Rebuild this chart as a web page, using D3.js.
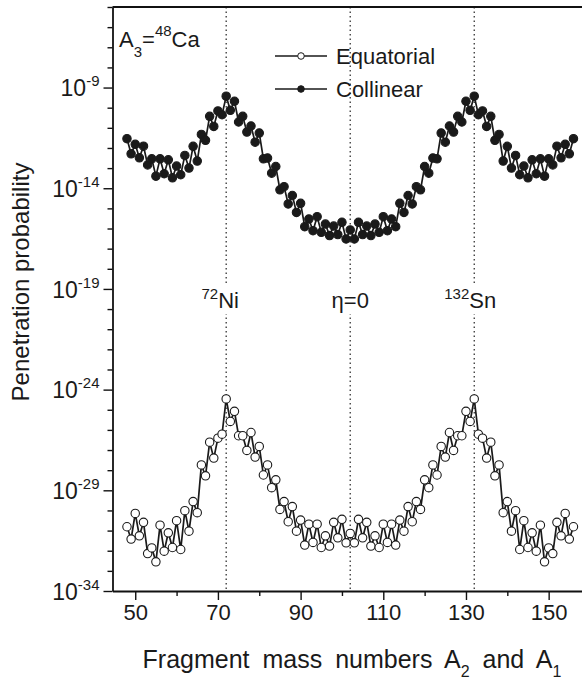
<!DOCTYPE html>
<html>
<head>
<meta charset="utf-8">
<script src="https://cdn.jsdelivr.net/npm/d3@7"></script>
<style>
  body { margin: 0; background: #fff; }
  svg { font-family: "Liberation Sans", Arial, sans-serif; }
  .domain { stroke: #111; stroke-width: 1.8; }
  .tick line { stroke: #111; stroke-width: 1.4; }
</style>
</head>
<body>
<svg id="chart" width="582" height="679"></svg>
<script>
// fragment mass numbers (A2 and A1)
const massNumbers = [48, 49, 50, 51, 52, 53, 54, 55, 56, 57, 58, 59, 60, 61, 62, 63, 64, 65, 66, 67,
  68, 69, 70, 71, 72, 73, 74, 75, 76, 77, 78, 79, 80, 81, 82, 83, 84, 85, 86, 87,
  88, 89, 90, 91, 92, 93, 94, 95, 96, 97, 98, 99, 100, 101, 102, 103, 104, 105, 106, 107,
  108, 109, 110, 111, 112, 113, 114, 115, 116, 117, 118, 119, 120, 121, 122, 123, 124, 125, 126, 127,
  128, 129, 130, 131, 132, 133, 134, 135, 136, 137, 138, 139, 140, 141, 142, 143, 144, 145, 146, 147,
  148, 149, 150, 151, 152, 153, 154, 155, 156]

// log10 of penetration probability, collinear configuration
const collinearLog = [-11.54, -12.29, -11.82, -12.49, -11.91, -12.84, -12.54, -13.40, -12.54, -13.28,
  -12.59, -13.48, -12.90, -13.33, -12.37, -13.00, -11.92, -12.65, -11.33, -11.62,
  -10.43, -10.93, -10.16, -10.35, -9.43, -10.13, -9.68, -10.71, -10.43, -11.21,
  -10.91, -11.71, -11.26, -12.54, -12.50, -13.25, -12.92, -14.08, -13.92, -14.78,
  -14.36, -15.20, -14.75, -15.91, -15.53, -16.11, -15.41, -16.19, -15.78, -16.35,
  -15.88, -16.30, -15.69, -16.52, -16.07, -16.52, -15.69, -16.30, -15.88, -16.35,
  -15.78, -16.19, -15.41, -16.11, -15.53, -15.91, -14.75, -15.20, -14.36, -14.78,
  -13.92, -14.08, -12.92, -13.25, -12.50, -12.54, -11.26, -11.71, -10.91, -11.21,
  -10.43, -10.71, -9.68, -10.13, -9.43, -10.35, -10.16, -10.93, -10.43, -11.62,
  -11.33, -12.65, -11.92, -13.00, -12.37, -13.33, -12.90, -13.48, -12.59, -13.28,
  -12.54, -13.40, -12.54, -12.84, -11.91, -12.49, -11.82, -12.29, -11.54]

// log10 of penetration probability, equatorial configuration
const equatorialLog = [-30.81, -31.42, -30.15, -31.26, -30.59, -32.14, -31.86, -32.55, -30.73, -32.02,
  -31.11, -31.84, -30.51, -31.94, -30.01, -31.03, -29.56, -30.11, -27.74, -28.28,
  -26.61, -27.40, -26.41, -26.21, -24.46, -25.58, -25.08, -26.29, -26.29, -27.02,
  -26.13, -27.35, -26.82, -28.24, -27.74, -28.87, -28.48, -29.95, -29.56, -30.56,
  -29.81, -31.03, -30.48, -31.72, -30.68, -31.59, -30.68, -31.84, -31.26, -31.77,
  -30.59, -31.36, -30.44, -31.61, -31.14, -31.61, -30.44, -31.36, -30.59, -31.77,
  -31.26, -31.84, -30.68, -31.59, -30.68, -31.72, -30.48, -31.03, -29.81, -30.56,
  -29.56, -29.95, -28.48, -28.87, -27.74, -28.24, -26.82, -27.35, -26.13, -27.02,
  -26.29, -26.29, -25.08, -25.58, -24.46, -26.21, -26.41, -27.40, -26.61, -28.28,
  -27.74, -30.11, -29.56, -31.03, -30.01, -31.94, -30.51, -31.84, -31.11, -32.02,
  -30.73, -32.55, -31.86, -32.14, -30.59, -31.26, -30.15, -31.42, -30.81]

const xMajorTicks = [50, 70, 90, 110, 130, 150]
const xMinorTicks = [60, 80, 100, 120, 140]
const yMajorExponents = [-34, -29, -24, -19, -14, -9]
const yMinorExponents = [-33, -32, -31, -30, -28, -27, -26, -25, -23, -22, -21, -20, -18, -17, -16, -15,
  -13, -12, -11, -10, -8, -7, -6, -5]

// reference lines: 72Ni, symmetric split, 132Sn
const markerLines = [
  {a: 72, sup: "72", name: "Ni", shift: -6},
  {a: 102, sup: "", name: "\u03B7=0", shift: 0},
  {a: 132, sup: "132", name: "Sn", shift: -4}
]

const collinear = massNumbers.map((a, i) => [a, Math.pow(10, collinearLog[i])])
const equatorial = massNumbers.map((a, i) => [a, Math.pow(10, equatorialLog[i])])

var svg = d3.select("#chart")
const margins = {left: 112.5, top: 7, bottom: 591, right: 590}
const ink = "#1a1a1a"

var x = d3.scaleLinear().domain([44.5, 160]).range([margins.left, margins.right])
var y = d3.scaleLog().domain([1e-34, 1e-5]).range([margins.bottom, margins.top])

// dotted vertical guides
svg.append("g")
  .selectAll("line")
  .data(markerLines)
  .join("line")
  .attr("x1", d => x(d.a)).attr("x2", d => x(d.a))
  .attr("y1", margins.top).attr("y2", margins.bottom)
  .attr("stroke", "#333")
  .attr("stroke-width", 1.3)
  .attr("stroke-dasharray", "1.5,3")

// labels on the guides, white box hides the line behind the text
var guideLabels = svg.append("g")
  .selectAll("g")
  .data(markerLines)
  .join("g")
  .attr("transform", d => `translate(${x(d.a) + d.shift}, 308)`)
guideLabels.append("rect")
  .attr("x", d => d.sup ? -34 : -21)
  .attr("y", -25)
  .attr("width", d => d.sup ? 68 : 42)
  .attr("height", 31)
  .attr("fill", "#fff")
guideLabels.append("text")
  .attr("text-anchor", "middle")
  .attr("fill", ink)
  .attr("font-size", 22)
  .each(function(d) {
    var t = d3.select(this)
    if (d.sup) t.append("tspan").attr("font-size", 15).attr("dy", -9).text(d.sup)
    t.append("tspan").attr("dy", d.sup ? 9 : 0).text(d.name)
  })

// axes
var xAxis = svg.append("g")
  .attr("transform", `translate(0, ${margins.bottom})`)
  .call(d3.axisBottom(x).tickValues(xMajorTicks).tickSize(9).tickSizeOuter(0).tickPadding(4))
xAxis.selectAll("text").attr("font-size", 22).attr("fill", ink)
svg.append("g")
  .attr("transform", `translate(0, ${margins.bottom})`)
  .call(d3.axisBottom(x).tickValues(xMinorTicks).tickSize(5).tickFormat(""))
  .select(".domain").remove()

var yAxis = svg.append("g")
  .attr("transform", `translate(${margins.left}, 0)`)
  .call(d3.axisLeft(y).tickValues(yMajorExponents.map(e => Math.pow(10, e))).tickSize(9).tickSizeOuter(0).tickFormat(""))
yAxis.selectAll(".tick text")
  .attr("x", -13)
  .attr("dy", "0.36em")
  .attr("font-size", 23)
  .attr("fill", ink)
  .each(function(d, i) {
    var t = d3.select(this)
    t.append("tspan").text("10")
    t.append("tspan").attr("font-size", 15).attr("dy", -10).text(yMajorExponents[i])
  })
svg.append("g")
  .attr("transform", `translate(${margins.left}, 0)`)
  .call(d3.axisLeft(y).tickValues(yMinorExponents.map(e => Math.pow(10, e))).tickSize(5).tickFormat(""))
  .select(".domain").remove()

// top frame line
svg.append("line")
  .attr("x1", margins.left).attr("x2", margins.right)
  .attr("y1", margins.top).attr("y2", margins.top)
  .attr("stroke", "#111").attr("stroke-width", 1.8)

// axis titles
var xTitle = svg.append("text")
  .attr("x", 352)
  .attr("y", 668)
  .attr("text-anchor", "middle")
  .attr("font-size", 25)
  .attr("word-spacing", 6)
  .attr("fill", ink)
xTitle.append("tspan").text("Fragment mass numbers A")
xTitle.append("tspan").attr("font-size", 16).attr("dy", 9).text("2")
xTitle.append("tspan").attr("dy", -9).text(" and A")
xTitle.append("tspan").attr("font-size", 16).attr("dy", 9).text("1")

svg.append("text")
  .attr("transform", "rotate(-90)")
  .attr("x", -282)
  .attr("y", 29)
  .attr("text-anchor", "middle")
  .attr("font-size", 24)
  .attr("fill", ink)
  .text("Penetration probability")

// the two curves
var line = d3.line().x(d => x(d[0])).y(d => y(d[1]))
const series = [
  {data: collinear, fill: ink},
  {data: equatorial, fill: "#fff"}
]
series.forEach(s => {
  svg.append("path")
    .datum(s.data)
    .attr("d", line)
    .attr("fill", "none")
    .attr("stroke", ink)
    .attr("stroke-width", 1.7)
  svg.append("g")
    .selectAll("circle")
    .data(s.data)
    .join("circle")
    .attr("cx", d => x(d[0]))
    .attr("cy", d => y(d[1]))
    .attr("r", 4.2)
    .attr("fill", s.fill)
    .attr("stroke", ink)
    .attr("stroke-width", 1.1)
})

// system label
var sysLabel = svg.append("text")
  .attr("x", 119)
  .attr("y", 47)
  .attr("font-size", 22)
  .attr("fill", ink)
sysLabel.append("tspan").text("A")
sysLabel.append("tspan").attr("font-size", 15).attr("dy", 10).text("3")
sysLabel.append("tspan").attr("dy", -10).text("=")
sysLabel.append("tspan").attr("font-size", 15).attr("dy", -11).text("48")
sysLabel.append("tspan").attr("dy", 11).text("Ca")

// legend
const legendItems = [
  {name: "Equatorial", fill: "#fff", y: 56},
  {name: "Collinear", fill: ink, y: 89}
]
var legend = svg.append("g")
  .selectAll("g")
  .data(legendItems)
  .join("g")
  .attr("transform", d => `translate(275, ${d.y})`)
legend.append("line")
  .attr("x1", 0).attr("x2", 52)
  .attr("stroke", ink).attr("stroke-width", 1.5)
legend.append("circle")
  .attr("cx", 26).attr("r", 3.3)
  .attr("fill", d => d.fill)
  .attr("stroke", ink).attr("stroke-width", 1)
legend.append("text")
  .attr("x", 61)
  .attr("dy", "0.36em")
  .attr("font-size", 22)
  .attr("fill", ink)
  .text(d => d.name)
</script>
</body>
</html>
